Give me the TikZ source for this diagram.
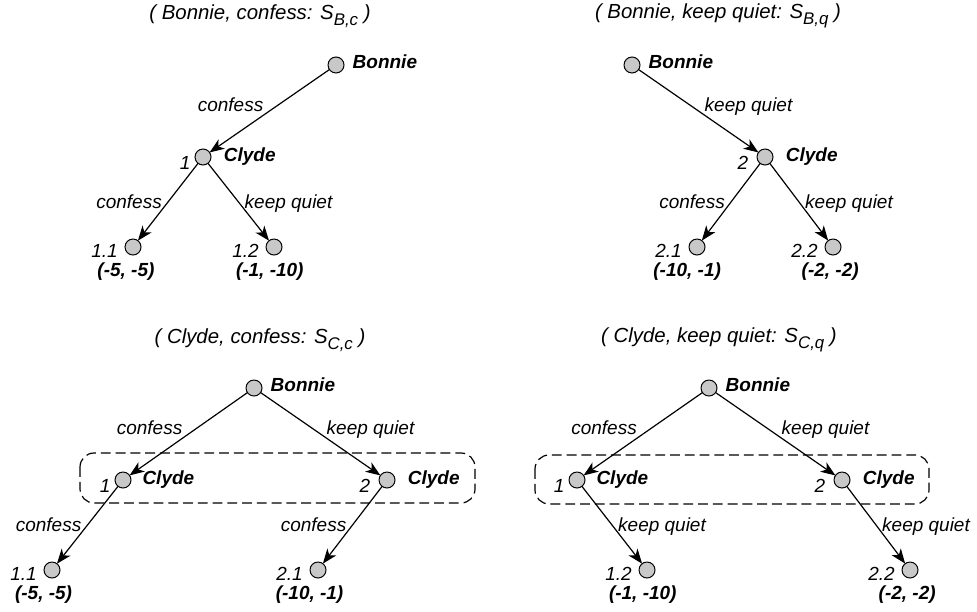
\documentclass[tikz,border=0pt]{standalone}
\usepackage{fontspec}
\setmainfont{Liberation Sans}
\usetikzlibrary{arrows.meta,
                    positioning}
\definecolor{dotgray}{RGB}{200,200,200}
\newcommand{\strat}[1]{S\raisebox{-0.3em}{\fontsize{12}{13}\selectfont#1}}

\begin{document}
\begin{tikzpicture}[
x=0.025cm, y=-0.025cm,
node distance= 4pt and 4pt,
    font = \fontsize{13.5}{16}\selectfont\itshape,
     dot/.style = {circle, draw, fill=dotgray, line width=0.7pt,
                   minimum size=0.4cm, inner sep=0pt, outer sep=0pt},
  player/.style = {font=\fontsize{13.5}{16}\selectfont\bfseries\itshape,
                   inner sep=1pt},
  payoff/.style = {player},
     num/.style = {inner sep=1pt},
   title/.style = {font=\fontsize{14.5}{17}\selectfont\itshape, inner sep=0pt},
  action/.style = {inner sep=4pt, text depth=0pt},
   upper/.style = {yshift=-5pt},
   arrow/.style = {-{Stealth[length=10.5pt, width=8pt, inset=3pt]},
                   line width=0.85pt},
 infoset/.style = {draw, dash pattern=on 7pt off 3.5pt,
                   line width=0.85pt, rounded corners=10pt}
                    ]
\useasboundingbox (0,0) rectangle (977,611);
% Bonnie confesses
\node (bcTitle) [title] at (260,16) {( Bonnie, confess: \strat{B,c} )};
\node (bcB)  [dot] at (336,65)  {};
\node (bcC)  [dot] at (203,157) {};
\node (bc11) [dot] at (133,247) {};
\node (bc12) [dot] at (274,247) {};
\node (bcBl)  [player, right=5pt of bcB, yshift=2pt] {Bonnie};
\node (bcCl)  [player, right=8pt of bcC] {Clyde};
\node (bcCn)  [num, left=2pt of bcC, yshift=-4pt] {1};
\node (bc11n) [num, left=4pt of bc11, yshift=-3pt] {1.1};
\node (bc12n) [num, left=4pt of bc12, yshift=-3pt] {1.2};
\node (bc11p) [payoff, below=4.5pt of bc11, xshift=-5pt] {(-5, -5)};
\node (bc12p) [payoff, below=4.5pt of bc12, xshift=-3pt] {(-1, -10)};
\draw [arrow] (bcB) -- node (bcE1) [action, above left, upper] {confess} (bcC);
\draw [arrow] (bcC) -- node (bcE2) [action, left] {confess} (bc11);
\draw [arrow] (bcC) -- node (bcE3) [action, right] {keep quiet} (bc12);
% Bonnie keeps quiet
\node (bqTitle) [title] at (718,16) {( Bonnie, keep quiet: \strat{B,q} )};
\node (bqB)  [dot] at (632,65)  {};
\node (bqC)  [dot] at (765,157) {};
\node (bq21) [dot] at (697,247) {};
\node (bq22) [dot] at (833,247) {};
\node (bqBl)  [player, right=5pt of bqB, yshift=2pt] {Bonnie};
\node (bqCl)  [player, right=8pt of bqC] {Clyde};
\node (bqCn)  [num, left=5pt of bqC, yshift=-4pt] {2};
\node (bq21n) [num, left=4pt of bq21, yshift=-3pt] {2.1};
\node (bq22n) [num, left=4pt of bq22, yshift=-3pt] {2.2};
\node (bq21p) [payoff, below=4.5pt of bq21, xshift=-7pt] {(-10, -1)};
\node (bq22p) [payoff, below=4.5pt of bq22, xshift=-2pt] {(-2, -2)};
\draw [arrow] (bqB) -- node (bqE1) [action, above right, upper] {keep quiet} (bqC);
\draw [arrow] (bqC) -- node (bqE2) [action, left] {confess} (bq21);
\draw [arrow] (bqC) -- node (bqE3) [action, right] {keep quiet} (bq22);
% Clyde confesses
\node (ccTitle) [title] at (260,340) {( Clyde, confess: \strat{C,c} )};
\node (ccB)  [dot] at (254,388) {};
\node (ccC1) [dot] at (123,480) {};
\node (ccC2) [dot] at (387,480) {};
\node (cc11) [dot] at (52,570)  {};
\node (cc21) [dot] at (318,570) {};
\node (ccBl)  [player, right=5pt of ccB, yshift=2pt] {Bonnie};
\node (ccC1l) [player, right=7pt of ccC1] {Clyde};
\node (ccC2l) [player, right=8pt of ccC2] {Clyde};
\node (ccC1n) [num, left=2pt of ccC1, yshift=-4pt] {1};
\node (ccC2n) [num, left=5pt of ccC2, yshift=-4pt] {2};
\node (cc11n) [num, left=4pt of cc11, yshift=-3pt] {1.1};
\node (cc21n) [num, left=4pt of cc21, yshift=-3pt] {2.1};
\node (cc11p) [payoff, below=4.5pt of cc11, xshift=-6pt] {(-5, -5)};
\node (cc21p) [payoff, below=4.5pt of cc21, xshift=-6pt] {(-10, -1)};
\draw [infoset] (80,453) rectangle (475,503);
\draw [arrow] (ccB) -- node (ccE1) [action, above left, upper] {confess} (ccC1);
\draw [arrow] (ccB) -- node (ccE2) [action, above right, upper] {keep quiet} (ccC2);
\draw [arrow] (ccC1) -- node (ccE3) [action, left] {confess} (cc11);
\draw [arrow] (ccC2) -- node (ccE4) [action, left] {confess} (cc21);
% Clyde keeps quiet
\node (cqTitle) [title] at (719,340) {( Clyde, keep quiet: \strat{C,q} )};
\node (cqB)  [dot] at (709,388) {};
\node (cqC1) [dot] at (577,480) {};
\node (cqC2) [dot] at (842,480) {};
\node (cq12) [dot] at (647,570) {};
\node (cq22) [dot] at (910,570) {};
\node (cqBl)  [player, right=5pt of cqB, yshift=2pt] {Bonnie};
\node (cqC1l) [player, right=7pt of cqC1] {Clyde};
\node (cqC2l) [player, right=8pt of cqC2] {Clyde};
\node (cqC1n) [num, left=2pt of cqC1, yshift=-4pt] {1};
\node (cqC2n) [num, left=5pt of cqC2, yshift=-4pt] {2};
\node (cq12n) [num, left=4pt of cq12, yshift=-3pt] {1.2};
\node (cq22n) [num, left=4pt of cq22, yshift=-3pt] {2.2};
\node (cq12p) [payoff, below=4.5pt of cq12, xshift=-3pt] {(-1, -10)};
\node (cq22p) [payoff, below=4.5pt of cq22, xshift=-2pt] {(-2, -2)};
\draw [infoset] (535,455) rectangle (929,504);
\draw [arrow] (cqB) -- node (cqE1) [action, above left, upper] {confess} (cqC1);
\draw [arrow] (cqB) -- node (cqE2) [action, above right, upper] {keep quiet} (cqC2);
\draw [arrow] (cqC1) -- node (cqE3) [action, right] {keep quiet} (cq12);
\draw [arrow] (cqC2) -- node (cqE4) [action, right] {keep quiet} (cq22);
\end{tikzpicture}
\end{document}
